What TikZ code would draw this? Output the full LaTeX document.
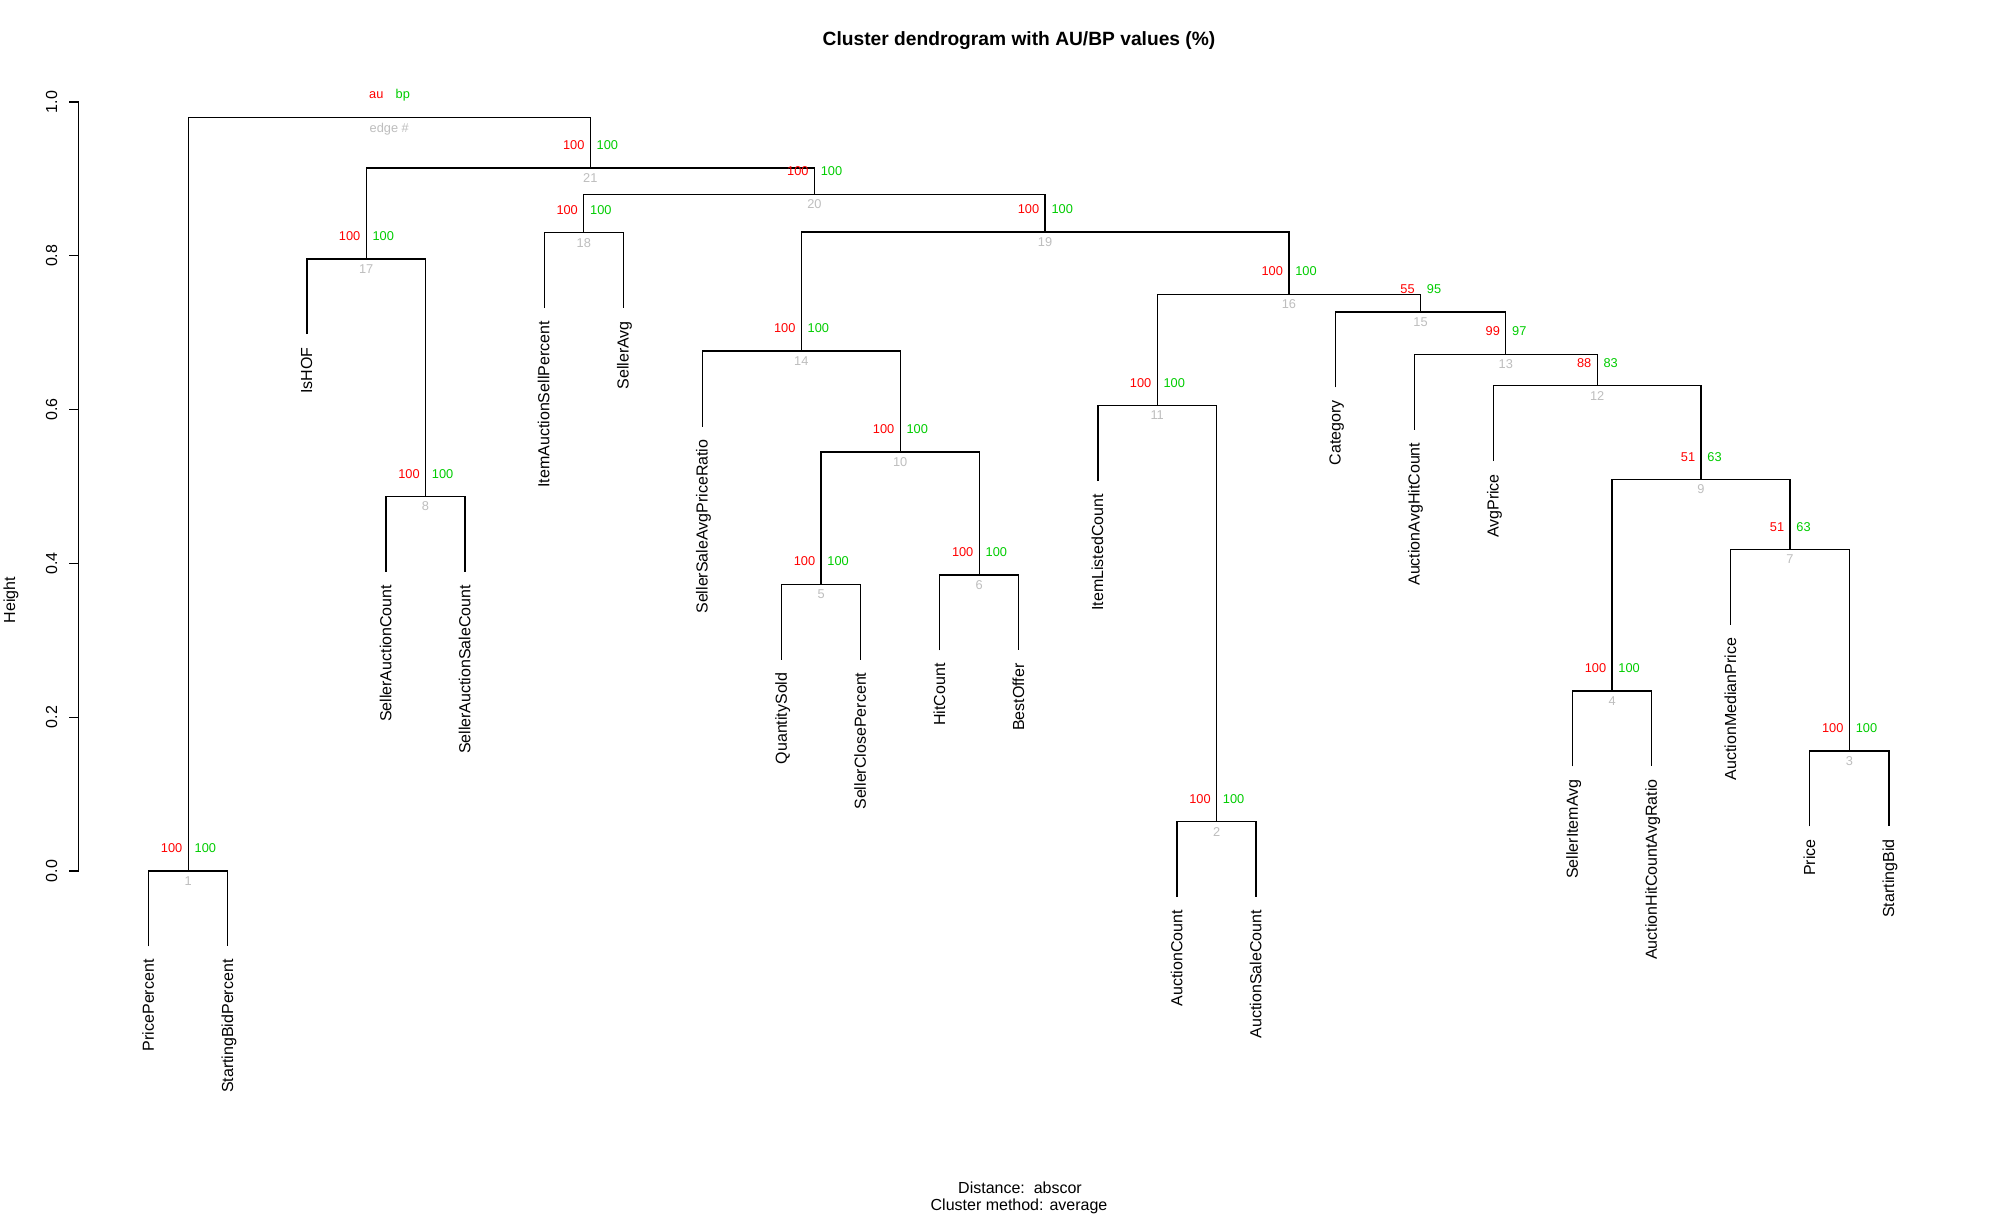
\documentclass[tikz,border=0pt]{standalone}
\usepackage{fontspec}
\setmainfont{Liberation Sans}
\usetikzlibrary{calc}

\definecolor{aured}{RGB}{255,0,0}
\definecolor{bpgreen}{RGB}{0,205,0}
\definecolor{edgegray}{RGB}{190,190,190}

% au / bp values above a merge, edge number below it
\newcommand{\pvlab}[4]{%
  \node[aulab] (#1au) at ($(#1)+(-5.5,18.4)$) {#2};
  \node[bplab] (#1bp) at ($(#1)+(6,18.4)$) {#3};
  \node[edgelab] (#1no) at ($(#1)+(0,-5)$) {#4};
}

\begin{document}
\begin{tikzpicture}[x=0.5pt,y=0.5pt,
  dend/.style={line width=0.65pt, black},
  leaflab/.style={rotate=90, anchor=mid east, inner sep=0pt, font=\fontsize{8}{9.6}\selectfont},
  ticklab/.style={rotate=90, anchor=center, inner sep=0pt, font=\fontsize{8}{9.6}\selectfont},
  aulab/.style={anchor=base east, inner sep=0pt, text=aured, font=\fontsize{6.4}{7.7}\selectfont},
  bplab/.style={anchor=base west, inner sep=0pt, text=bpgreen, font=\fontsize{6.4}{7.7}\selectfont},
  edgelab/.style={anchor=north, inner sep=0pt, text=edgegray, font=\fontsize{6.4}{7.7}\selectfont},
  plaintext/.style={inner sep=0pt, font=\fontsize{8}{9.6}\selectfont}]

\useasboundingbox (0,0) rectangle (2000,1219);
\fill[white] (0,0) rectangle (2000,1219);

% ---- leaf ends (x spacing 79.1, hanging 0.098 below the parent merge)
\coordinate (L1)  at (148.7, {348+769*(-0.098)});
\coordinate (L2)  at (227.8, {348+769*(-0.098)});
\coordinate (L3)  at (306.9, {348+769*(0.698)});
\coordinate (L4)  at (386.0, {348+769*(0.389)});
\coordinate (L5)  at (465.1, {348+769*(0.389)});
\coordinate (L6)  at (544.2, {348+769*(0.732)});
\coordinate (L7)  at (623.3, {348+769*(0.732)});
\coordinate (L8)  at (702.4, {348+769*(0.578)});
\coordinate (L9)  at (781.5, {348+769*(0.275)});
\coordinate (L10) at (860.6, {348+769*(0.275)});
\coordinate (L11) at (939.7, {348+769*(0.287)});
\coordinate (L12) at (1018.8,{348+769*(0.287)});
\coordinate (L13) at (1097.9,{348+769*(0.507)});
\coordinate (L14) at (1177.0,{348+769*(-0.034)});
\coordinate (L15) at (1256.1,{348+769*(-0.034)});
\coordinate (L16) at (1335.2,{348+769*(0.629)});
\coordinate (L17) at (1414.3,{348+769*(0.574)});
\coordinate (L18) at (1493.4,{348+769*(0.533)});
\coordinate (L19) at (1572.5,{348+769*(0.136)});
\coordinate (L20) at (1651.6,{348+769*(0.136)});
\coordinate (L21) at (1730.7,{348+769*(0.320)});
\coordinate (L22) at (1809.8,{348+769*(0.058)});
\coordinate (L23) at (1888.9,{348+769*(0.058)});

% ---- merge points (x = mean of the two children, y = height)
\coordinate (M1)  at (188.25, {348+769*0.000});
\coordinate (M2)  at (1216.55,{348+769*0.064});
\coordinate (M3)  at (1849.35,{348+769*0.156});
\coordinate (M4)  at (1612.05,{348+769*0.234});
\coordinate (M5)  at (821.05, {348+769*0.373});
\coordinate (M6)  at (979.25, {348+769*0.385});
\coordinate (M7)  at (1790.0, {348+769*0.418});
\coordinate (M8)  at (425.55, {348+769*0.487});
\coordinate (M9)  at (1701.0, {348+769*0.509});
\coordinate (M10) at (900.15, {348+769*0.545});
\coordinate (M11) at (1157.2, {348+769*0.605});
\coordinate (M12) at (1597.2, {348+769*0.631});
\coordinate (M13) at (1505.75,{348+769*0.672});
\coordinate (M14) at (801.3,  {348+769*0.676});
\coordinate (M15) at (1420.5, {348+769*0.727});
\coordinate (M16) at (1288.85,{348+769*0.750});
\coordinate (M17) at (366.2,  {348+769*0.796});
\coordinate (M18) at (583.75, {348+769*0.830});
\coordinate (M19) at (1045.1, {348+769*0.831});
\coordinate (M20) at (814.4,  {348+769*0.880});
\coordinate (M21) at (590.3,  {348+769*0.914});
\coordinate (R)   at (389.3,  {348+769*0.980});

% ---- dendrogram branches
\draw[dend] (L1)  |- (M1)  -| (L2);
\draw[dend] (L14) |- (M2)  -| (L15);
\draw[dend] (L22) |- (M3)  -| (L23);
\draw[dend] (L19) |- (M4)  -| (L20);
\draw[dend] (L9)  |- (M5)  -| (L10);
\draw[dend] (L11) |- (M6)  -| (L12);
\draw[dend] (L21) |- (M7)  -| (M3);
\draw[dend] (L4)  |- (M8)  -| (L5);
\draw[dend] (M4)  |- (M9)  -| (M7);
\draw[dend] (M5)  |- (M10) -| (M6);
\draw[dend] (L13) |- (M11) -| (M2);
\draw[dend] (L18) |- (M12) -| (M9);
\draw[dend] (L17) |- (M13) -| (M12);
\draw[dend] (L8)  |- (M14) -| (M10);
\draw[dend] (L16) |- (M15) -| (M13);
\draw[dend] (M11) |- (M16) -| (M15);
\draw[dend] (L3)  |- (M17) -| (M8);
\draw[dend] (L6)  |- (M18) -| (L7);
\draw[dend] (M14) |- (M19) -| (M16);
\draw[dend] (M18) |- (M20) -| (M19);
\draw[dend] (M17) |- (M21) -| (M20);
\draw[dend] (M1)  |- (R)   -| (M21);

% ---- AU / BP values and edge numbers
\pvlab{M1}{100}{100}{1}
\pvlab{M2}{100}{100}{2}
\pvlab{M3}{100}{100}{3}
\pvlab{M4}{100}{100}{4}
\pvlab{M5}{100}{100}{5}
\pvlab{M6}{100}{100}{6}
\pvlab{M7}{51}{63}{7}
\pvlab{M8}{100}{100}{8}
\pvlab{M9}{51}{63}{9}
\pvlab{M10}{100}{100}{10}
\pvlab{M11}{100}{100}{11}
\pvlab{M12}{88}{83}{12}
\pvlab{M13}{99}{97}{13}
\pvlab{M14}{100}{100}{14}
\pvlab{M15}{55}{95}{15}
\pvlab{M16}{100}{100}{16}
\pvlab{M17}{100}{100}{17}
\pvlab{M18}{100}{100}{18}
\pvlab{M19}{100}{100}{19}
\pvlab{M20}{100}{100}{20}
\pvlab{M21}{100}{100}{21}
\pvlab{R}{au}{bp}{edge \#}

% ---- leaf labels
\node[leaflab] (T1)  at ($(L1)+(0,-12.7)$)  {PricePercent};
\node[leaflab] (T2)  at ($(L2)+(0,-12.7)$)  {StartingBidPercent};
\node[leaflab] (T3)  at ($(L3)+(0,-12.7)$)  {IsHOF};
\node[leaflab] (T4)  at ($(L4)+(0,-12.7)$)  {SellerAuctionCount};
\node[leaflab] (T5)  at ($(L5)+(0,-12.7)$)  {SellerAuctionSaleCount};
\node[leaflab] (T6)  at ($(L6)+(0,-12.7)$)  {ItemAuctionSellPercent};
\node[leaflab] (T7)  at ($(L7)+(0,-12.7)$)  {SellerAvg};
\node[leaflab] (T8)  at ($(L8)+(0,-12.7)$)  {SellerSaleAvgPriceRatio};
\node[leaflab] (T9)  at ($(L9)+(0,-12.7)$)  {QuantitySold};
\node[leaflab] (T10) at ($(L10)+(0,-12.7)$) {SellerClosePercent};
\node[leaflab] (T11) at ($(L11)+(0,-12.7)$) {HitCount};
\node[leaflab] (T12) at ($(L12)+(0,-12.7)$) {BestOffer};
\node[leaflab] (T13) at ($(L13)+(0,-12.7)$) {ItemListedCount};
\node[leaflab] (T14) at ($(L14)+(0,-12.7)$) {AuctionCount};
\node[leaflab] (T15) at ($(L15)+(0,-12.7)$) {AuctionSaleCount};
\node[leaflab] (T16) at ($(L16)+(0,-12.7)$) {Category};
\node[leaflab] (T17) at ($(L17)+(0,-12.7)$) {AuctionAvgHitCount};
\node[leaflab] (T18) at ($(L18)+(0,-12.7)$) {AvgPrice};
\node[leaflab] (T19) at ($(L19)+(0,-12.7)$) {SellerItemAvg};
\node[leaflab] (T20) at ($(L20)+(0,-12.7)$) {AuctionHitCountAvgRatio};
\node[leaflab] (T21) at ($(L21)+(0,-12.7)$) {AuctionMedianPrice};
\node[leaflab] (T22) at ($(L22)+(0,-12.7)$) {Price};
\node[leaflab] (T23) at ($(L23)+(0,-12.7)$) {StartingBid};

% ---- height axis
\coordinate (AxLo) at (78.7, {348+769*0});
\coordinate (AxHi) at (78.7, {348+769*1});
\draw[dend] (AxLo) -- (AxHi);
\foreach \v/\n in {0.0/0, 0.2/1, 0.4/2, 0.6/3, 0.8/4, 1.0/5} {
  \coordinate (tick\n) at (78.7, {348+769*\v});
  \coordinate (tickend\n) at (68.7, {348+769*\v});
  \draw[dend] (tick\n) -- (tickend\n);
  \node[ticklab] (ticklab\n) at (51.5, {348+769*\v}) {\v};
}
\node[plaintext, rotate=90] (ylab) at (11, 619) {Height};

% ---- title and subtitle
\node[plaintext, anchor=base, font=\fontsize{9.6}{11.5}\selectfont\bfseries] (title) at (1019, 1173.6)
  {Cluster dendrogram with AU/BP values (\%)};
\node[plaintext, anchor=base] (dist) at (1020, 25) {Distance:\ \ abscor};
\node[plaintext, anchor=base] (meth) at (1019, 8) {Cluster method: average};

\end{tikzpicture}
\end{document}
